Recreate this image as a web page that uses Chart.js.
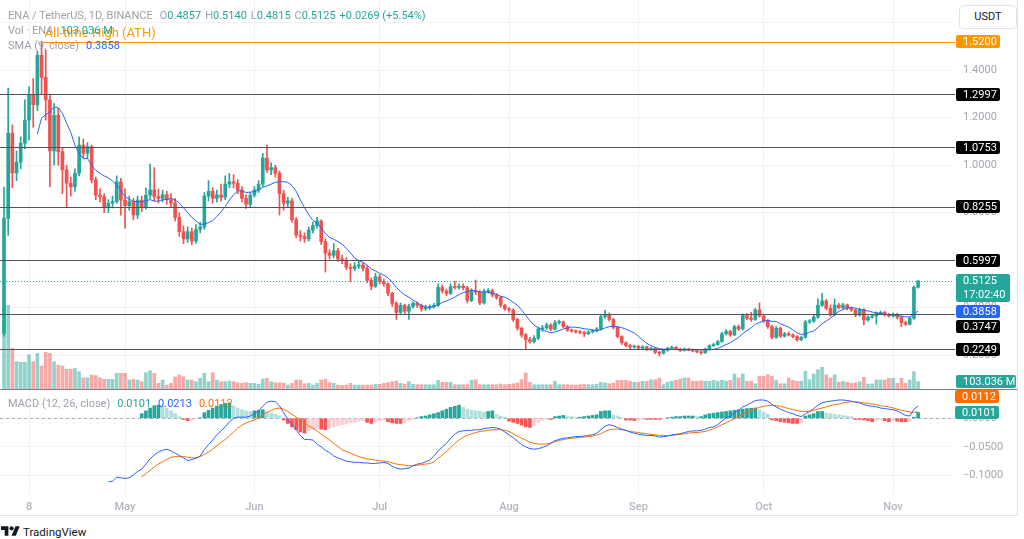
<!DOCTYPE html>
<html>
<head>
<meta charset="utf-8">
<title>ENA / TetherUS 1D</title>
<script src="https://cdn.jsdelivr.net/npm/chart.js@4.4.1/dist/chart.umd.min.js"></script>
<style>
  html,body{margin:0;padding:0;background:#ffffff;}
  body{width:1024px;height:539px;overflow:hidden;position:relative;font-family:Roboto,"Noto Sans",Arial,sans-serif;}
  #c1{position:absolute;left:0;top:0;}
  #c2{position:absolute;left:0;top:390px;}
  .legend{position:absolute;left:8px;font-size:11px;line-height:14px;white-space:nowrap;color:#9ea1a9;}
  .up{color:#26a69a;} .blue{color:#2962ff;} .orange{color:#ff6d00;}
  .sp{display:inline-block;width:7px;}
  .sp2{display:inline-block;width:4px;}
  #divider{position:absolute;left:0;top:389px;width:1017px;height:1px;background:#7d808a;}
  #rborder{position:absolute;left:1017px;top:0;width:1px;height:516px;background:#e0e3eb;}
  #bborder{position:absolute;left:0;top:515px;width:1018px;height:1px;background:#e0e3eb;}
  #usdt{position:absolute;left:959px;top:5px;width:56px;height:22px;border:1px solid #e0e3eb;border-radius:4px;background:#fff;font-size:11px;line-height:22px;text-align:center;color:#131722;}
  #tv{position:absolute;left:1px;top:524px;display:flex;align-items:center;font-size:11.5px;font-weight:400;color:#131722;}
  #tv svg{margin-right:3px;}
</style>
</head>
<body>
<canvas id="c1" width="1024" height="389"></canvas>
<canvas id="c2" width="1024" height="125"></canvas>
<div id="divider"></div>
<div id="rborder"></div>
<div id="bborder"></div>
<div id="usdt">USDT</div>
<div class="legend" id="lg1" style="top:9px;"></div>
<div class="legend" id="lg2" style="top:24px;"></div>
<div class="legend" id="lg3" style="top:39px;"></div>
<div class="legend" id="lg4" style="top:397px;"></div>
<div id="tv"><svg width="19" height="15" viewBox="0 0 36 28"><path d="M14 22H7V11H0V4h14v18zM28 22h-8l7.5-18h8L28 22z" fill="#131722"/><circle cx="20" cy="8" r="4" fill="#131722"/></svg>TradingView</div>
<script>
// ---------------- DATA (daily candles, day 0 = Apr 2) ----------------
const symbolTitle = 'ENA / TetherUS, 1D, BINANCE';
const changeText = '+0.0269 (+5.54%)';
const countdown = '17:02:40';
const volumeLabel = '103.036 M';
const tickLabels = ['8','May','Jun','Jul','Aug','Sep','Oct','Nov'];
const tickDays = [6,29,60,90,121,152,182,213];
const athPrice = 1.52;
const athDay = 9;
const athLabel = 'All-time High (ATH)';
const levels = [1.2997,1.0753,0.8255,0.5997,0.3747,0.2249];
const priceTicks = [0.2,0.4,0.6,0.8,1.0,1.2,1.4,1.6];
const macdTicks = [-0.1,-0.05,0];

const opens = [0.290,0.776,1.135,0.967,1.013,1.093,1.190,1.295,1.255,1.463,
 1.370,1.275,1.060,1.210,1.057,0.980,0.924,0.909,0.966,1.085,
 1.050,1.078,0.938,0.874,0.867,0.825,0.840,0.847,0.930,0.853,
 0.830,0.847,0.790,0.853,0.825,0.874,0.896,0.868,0.860,0.876,
 0.855,0.840,0.780,0.720,0.690,0.720,0.680,0.730,0.740,0.870,
 0.890,0.860,0.875,0.865,0.920,0.930,0.924,0.896,0.860,0.835,
 0.874,0.896,0.920,1.030,0.980,0.990,0.966,0.880,0.840,0.850,
 0.770,0.706,0.700,0.690,0.727,0.745,0.765,0.678,0.630,0.620,
 0.640,0.605,0.600,0.570,0.565,0.575,0.580,0.565,0.515,0.490,
 0.530,0.510,0.500,0.460,0.418,0.380,0.410,0.385,0.405,0.418,
 0.410,0.395,0.400,0.405,0.410,0.485,0.470,0.460,0.488,0.485,
 0.490,0.484,0.430,0.470,0.465,0.420,0.468,0.471,0.453,0.443,
 0.410,0.395,0.390,0.350,0.313,0.285,0.265,0.257,0.271,0.310,
 0.315,0.327,0.310,0.337,0.340,0.320,0.305,0.302,0.298,0.295,
 0.290,0.298,0.303,0.310,0.362,0.372,0.350,0.317,0.278,0.252,
 0.240,0.234,0.237,0.229,0.235,0.224,0.229,0.212,0.208,0.220,
 0.229,0.233,0.226,0.220,0.226,0.222,0.218,0.214,0.210,0.226,
 0.240,0.245,0.257,0.290,0.300,0.285,0.320,0.310,0.367,0.355,
 0.350,0.390,0.365,0.345,0.320,0.275,0.313,0.280,0.290,0.285,
 0.278,0.265,0.275,0.340,0.343,0.360,0.410,0.428,0.397,0.370,
 0.411,0.400,0.411,0.397,0.390,0.369,0.392,0.348,0.360,0.365,
 0.376,0.380,0.370,0.365,0.370,0.360,0.337,0.330,0.355,0.4857];

const highs = [0.908,1.325,1.170,1.060,1.120,1.275,1.330,1.365,1.480,1.520,
 1.485,1.300,1.260,1.240,1.075,1.000,0.950,0.985,1.120,1.110,
 1.095,1.085,0.950,0.900,0.880,0.855,0.870,0.955,0.945,0.900,
 0.870,0.860,0.870,0.870,0.905,1.005,0.990,0.900,0.895,0.890,
 0.880,0.860,0.800,0.745,0.740,0.735,0.750,0.760,0.885,0.935,
 0.905,0.895,0.920,0.955,0.965,0.960,0.940,0.910,0.875,0.885,
 0.910,0.935,1.050,1.085,1.010,1.000,0.975,0.895,0.865,0.860,
 0.780,0.725,0.715,0.740,0.760,0.780,0.770,0.690,0.645,0.670,
 0.650,0.620,0.610,0.585,0.590,0.595,0.590,0.575,0.525,0.545,
 0.540,0.520,0.505,0.465,0.425,0.420,0.415,0.415,0.425,0.425,
 0.415,0.410,0.412,0.418,0.500,0.495,0.478,0.500,0.512,0.500,
 0.500,0.490,0.480,0.516,0.472,0.478,0.480,0.478,0.460,0.448,
 0.415,0.400,0.395,0.355,0.318,0.292,0.275,0.282,0.318,0.325,
 0.335,0.332,0.345,0.348,0.344,0.325,0.310,0.307,0.303,0.300,
 0.303,0.308,0.316,0.368,0.390,0.378,0.355,0.320,0.282,0.256,
 0.245,0.242,0.241,0.240,0.238,0.234,0.232,0.216,0.224,0.233,
 0.238,0.236,0.229,0.230,0.229,0.226,0.222,0.218,0.230,0.244,
 0.250,0.262,0.296,0.308,0.305,0.326,0.327,0.374,0.375,0.380,
 0.398,0.420,0.372,0.350,0.325,0.320,0.318,0.296,0.298,0.290,
 0.282,0.280,0.346,0.350,0.368,0.437,0.460,0.435,0.412,0.437,
 0.418,0.418,0.415,0.402,0.395,0.398,0.396,0.366,0.371,0.382,
 0.386,0.385,0.376,0.378,0.376,0.364,0.343,0.360,0.492,0.514];

const lows = [0.280,0.705,0.905,0.935,0.985,1.070,1.105,1.160,1.230,1.300,
 1.190,0.909,1.000,1.000,0.880,0.825,0.870,0.890,0.955,1.030,
 1.030,0.925,0.855,0.845,0.800,0.800,0.820,0.840,0.790,0.735,
 0.810,0.770,0.775,0.805,0.815,0.860,0.850,0.840,0.845,0.835,
 0.825,0.765,0.700,0.670,0.675,0.665,0.670,0.715,0.730,0.850,
 0.840,0.845,0.850,0.855,0.905,0.905,0.880,0.845,0.818,0.825,
 0.865,0.885,0.910,0.970,0.960,0.950,0.790,0.810,0.825,0.760,
 0.695,0.680,0.675,0.680,0.715,0.735,0.665,0.550,0.605,0.610,
 0.595,0.585,0.560,0.510,0.555,0.565,0.555,0.505,0.475,0.485,
 0.500,0.490,0.450,0.405,0.350,0.370,0.375,0.350,0.398,0.400,
 0.385,0.388,0.392,0.398,0.405,0.462,0.450,0.455,0.478,0.478,
 0.475,0.420,0.425,0.455,0.412,0.415,0.460,0.445,0.435,0.402,
 0.388,0.380,0.342,0.305,0.275,0.222,0.250,0.250,0.265,0.300,
 0.308,0.303,0.305,0.330,0.315,0.300,0.296,0.292,0.289,0.278,
 0.286,0.293,0.298,0.305,0.355,0.343,0.310,0.272,0.245,0.235,
 0.228,0.229,0.224,0.225,0.219,0.220,0.206,0.196,0.204,0.216,
 0.225,0.222,0.215,0.217,0.218,0.214,0.209,0.203,0.207,0.222,
 0.236,0.241,0.254,0.284,0.279,0.282,0.304,0.306,0.348,0.342,
 0.346,0.360,0.338,0.312,0.268,0.270,0.274,0.276,0.280,0.272,
 0.258,0.261,0.272,0.333,0.338,0.355,0.405,0.390,0.363,0.365,
 0.394,0.395,0.390,0.384,0.362,0.364,0.327,0.343,0.355,0.330,
 0.370,0.364,0.360,0.360,0.352,0.320,0.325,0.327,0.350,0.4815];

const closes = [0.776,1.135,0.967,1.013,1.093,1.190,1.295,1.255,1.463,1.370,
 1.275,1.060,1.210,1.057,0.980,0.924,0.909,0.966,1.085,1.050,
 1.078,0.938,0.874,0.867,0.825,0.840,0.847,0.930,0.853,0.830,
 0.847,0.790,0.853,0.825,0.874,0.896,0.868,0.860,0.876,0.855,
 0.840,0.780,0.720,0.690,0.720,0.680,0.730,0.740,0.870,0.890,
 0.860,0.875,0.865,0.920,0.930,0.924,0.896,0.860,0.835,0.874,
 0.896,0.920,1.030,0.980,0.990,0.966,0.880,0.840,0.850,0.770,
 0.706,0.700,0.690,0.727,0.745,0.765,0.678,0.630,0.620,0.640,
 0.605,0.600,0.570,0.565,0.575,0.580,0.565,0.515,0.490,0.530,
 0.510,0.500,0.460,0.418,0.380,0.410,0.385,0.405,0.418,0.410,
 0.395,0.400,0.405,0.410,0.485,0.470,0.460,0.488,0.485,0.490,
 0.484,0.430,0.470,0.465,0.420,0.468,0.471,0.453,0.443,0.410,
 0.395,0.390,0.350,0.313,0.285,0.265,0.257,0.271,0.310,0.315,
 0.327,0.310,0.337,0.340,0.320,0.305,0.302,0.298,0.295,0.290,
 0.298,0.303,0.310,0.362,0.372,0.350,0.317,0.278,0.252,0.240,
 0.234,0.237,0.229,0.235,0.224,0.229,0.212,0.208,0.220,0.229,
 0.233,0.226,0.220,0.226,0.222,0.218,0.214,0.210,0.226,0.240,
 0.245,0.257,0.290,0.300,0.285,0.320,0.310,0.367,0.355,0.350,
 0.390,0.365,0.345,0.320,0.275,0.313,0.280,0.290,0.285,0.278,
 0.265,0.275,0.340,0.343,0.360,0.410,0.428,0.397,0.370,0.411,
 0.400,0.411,0.397,0.390,0.369,0.392,0.348,0.360,0.365,0.376,
 0.380,0.370,0.365,0.370,0.360,0.337,0.330,0.355,0.4857,0.5125];

// volume, millions of ENA
const volumes = [1185,1180,575,385,376,376,480,385,503,324,
 517,503,385,338,324,278,278,292,244,159,
 159,197,188,159,137,137,137,221,221,221,
 127,137,127,103,230,258,221,80,127,56,
 80,170,197,173,127,127,103,151,221,103,
 230,127,103,103,113,103,89,80,89,80,
 80,66,141,151,103,89,89,80,56,80,
 127,123,75,80,56,80,127,137,89,80,
 56,52,56,80,56,56,56,56,56,66,
 66,80,89,103,113,80,71,103,66,61,
 61,61,61,61,123,94,94,94,61,61,
 61,61,123,131,61,61,61,61,61,70,
 61,66,75,85,131,226,94,61,61,61,
 61,61,109,61,61,61,56,56,61,66,
 61,61,66,94,85,75,85,123,123,123,
 109,94,94,109,109,131,131,155,61,94,
 109,123,141,155,155,109,109,117,109,109,
 123,109,123,109,123,212,155,212,109,109,
 75,179,179,202,179,123,75,75,155,123,
 109,109,250,131,212,272,306,202,155,202,
 94,109,94,80,89,103,165,71,71,127,
 127,127,151,151,80,151,80,127,244,103.036];

// SMA(9, close), first value on day 8
const smaFirstDay = 8;
const sma9 = [1.1319,1.1979,1.2134,1.2238,1.2457,1.2417,1.2183,1.1771,1.1387,1.0834,
 1.0518,1.0268,1.0288,0.9986,0.9782,0.9657,0.9547,0.9470,0.9338,0.9166,
 0.8947,0.8671,0.8570,0.8477,0.8461,0.8461,0.8499,0.8553,0.8484,0.8492,
 0.8543,0.8552,0.8608,0.8527,0.8410,0.8206,0.8010,0.7801,0.7657,0.7506,
 0.7522,0.7578,0.7667,0.7839,0.8033,0.8256,0.8533,0.8749,0.8922,0.8911,
 0.8850,0.8866,0.8889,0.8950,0.9072,0.9128,0.9201,0.9279,0.9301,0.9307,
 0.9280,0.9140,0.8902,0.8536,0.8213,0.7921,0.7676,0.7548,0.7368,0.7123,
 0.6957,0.6883,0.6778,0.6678,0.6503,0.6303,0.6092,0.5983,0.5911,0.5794,
 0.5628,0.5544,0.5444,0.5367,0.5250,0.5076,0.4853,0.4681,0.4537,0.4442,
 0.4318,0.4207,0.4090,0.4023,0.4009,0.4042,0.4126,0.4220,0.4281,0.4359,
 0.4442,0.4548,0.4641,0.4669,0.4736,0.4713,0.4658,0.4667,0.4648,0.4612,
 0.4560,0.4478,0.4439,0.4350,0.4222,0.4103,0.3900,0.3671,0.3453,0.3262,
 0.3151,0.3062,0.2992,0.2948,0.2974,0.3036,0.3097,0.3150,0.3184,0.3171,
 0.3149,0.3108,0.3094,0.3057,0.3023,0.3070,0.3144,0.3198,0.3219,0.3200,
 0.3158,0.3093,0.3017,0.2936,0.2788,0.2636,0.2496,0.2398,0.2324,0.2276,
 0.2253,0.2248,0.2243,0.2240,0.2223,0.2226,0.2218,0.2224,0.2231,0.2220,
 0.2217,0.2224,0.2246,0.2287,0.2358,0.2444,0.2519,0.2637,0.2748,0.2904,
 0.3032,0.3149,0.3297,0.3380,0.3430,0.3469,0.3419,0.3422,0.3326,0.3253,
 0.3181,0.3057,0.2946,0.2868,0.2890,0.2966,0.3018,0.3162,0.3316,0.3440,
 0.3542,0.3704,0.3843,0.3922,0.3982,0.4016,0.3970,0.3930,0.3876,0.3864,
 0.3813,0.3787,0.3752,0.3722,0.3694,0.3696,0.3660,0.3648,0.3614,0.3603,
 0.3725,0.3858];

// MACD (12, 26, close)
const macdFirstDay = 25;
const macdLine = [-0.111,-0.110,-0.103,-0.104,-0.105,
 -0.104,-0.099,-0.093,-0.089,-0.080,-0.071,-0.064,-0.059,-0.056,-0.054,
 -0.057,-0.061,-0.065,-0.069,-0.074,-0.072,-0.070,-0.066,-0.055,-0.046,
 -0.038,-0.029,-0.022,-0.015,-0.006,0.000,0.002,0.002,0.002,0.004,
 0.008,0.013,0.021,0.028,0.030,0.029,0.022,0.010,-0.002,-0.011,
 -0.020,-0.030,-0.037,-0.037,-0.038,-0.045,-0.050,-0.056,-0.060,-0.066,
 -0.069,-0.072,-0.075,-0.076,-0.077,-0.077,-0.078,-0.078,-0.079,-0.079,
 -0.078,-0.077,-0.079,-0.084,-0.087,-0.089,-0.088,-0.087,-0.083,-0.080,
 -0.079,-0.076,-0.073,-0.066,-0.057,-0.050,-0.044,-0.035,-0.028,-0.023,
 -0.022,-0.021,-0.021,-0.020,-0.020,-0.018,-0.017,-0.016,-0.017,-0.019,
 -0.024,-0.029,-0.034,-0.040,-0.046,-0.050,-0.053,-0.054,-0.053,-0.051,
 -0.048,-0.044,-0.039,-0.037,-0.035,-0.034,-0.033,-0.032,-0.032,-0.031,
 -0.030,-0.029,-0.026,-0.020,-0.014,-0.011,-0.013,-0.016,-0.019,-0.021,
 -0.024,-0.026,-0.028,-0.029,-0.030,-0.030,-0.031,-0.033,-0.032,-0.031,
 -0.029,-0.028,-0.027,-0.025,-0.023,-0.022,-0.022,-0.021,-0.019,-0.016,
 -0.015,-0.011,-0.005,0.001,0.004,0.010,0.014,0.020,0.023,0.027,
 0.031,0.032,0.032,0.030,0.024,0.020,0.016,0.013,0.010,0.008,
 0.005,0.003,0.008,0.012,0.017,0.023,0.027,0.029,0.030,0.031,
 0.032,0.032,0.031,0.030,0.028,0.027,0.024,0.022,0.021,0.020,
 0.018,0.017,0.016,0.015,0.013,0.009,0.005,0.004,0.016,0.0213];

const signalFirstDay = 33;
const signalLine = [-0.102,-0.097,-0.091,-0.085,-0.080,-0.076,-0.072,
 -0.068,-0.067,-0.067,-0.067,-0.068,-0.069,-0.069,-0.067,-0.063,-0.059,
 -0.054,-0.048,-0.042,-0.037,-0.031,-0.024,-0.017,-0.012,-0.008,-0.005,
 -0.003,0.001,0.006,0.010,0.014,0.017,0.018,0.016,0.012,0.007,
 0.002,-0.002,-0.008,-0.013,-0.017,-0.022,-0.028,-0.033,-0.038,-0.044,
 -0.049,-0.055,-0.058,-0.061,-0.064,-0.067,-0.069,-0.071,-0.072,-0.073,
 -0.074,-0.075,-0.076,-0.078,-0.080,-0.081,-0.082,-0.083,-0.083,-0.082,
 -0.081,-0.080,-0.079,-0.076,-0.070,-0.064,-0.058,-0.051,-0.044,-0.038,
 -0.033,-0.030,-0.027,-0.025,-0.023,-0.022,-0.021,-0.020,-0.020,-0.020,
 -0.021,-0.023,-0.027,-0.031,-0.035,-0.038,-0.042,-0.044,-0.045,-0.045,
 -0.045,-0.043,-0.041,-0.039,-0.037,-0.036,-0.035,-0.034,-0.033,-0.033,
 -0.032,-0.031,-0.029,-0.027,-0.023,-0.020,-0.019,-0.019,-0.020,-0.021,
 -0.023,-0.024,-0.025,-0.026,-0.027,-0.028,-0.029,-0.030,-0.030,-0.030,
 -0.030,-0.029,-0.028,-0.027,-0.026,-0.025,-0.025,-0.024,-0.023,-0.021,
 -0.018,-0.015,-0.011,-0.008,-0.004,-0.001,0.003,0.007,0.011,0.014,
 0.017,0.019,0.021,0.022,0.023,0.022,0.021,0.019,0.017,0.015,
 0.014,0.012,0.012,0.012,0.014,0.016,0.018,0.020,0.022,0.024,
 0.025,0.027,0.028,0.029,0.029,0.028,0.027,0.026,0.025,0.024,
 0.022,0.021,0.020,0.018,0.016,0.014,0.0125,0.011,0.0105,0.0112];

const macdHist = [0.008,0.013,0.018,0.022,0.023,0.021,0.017,
 0.013,0.008,0.003,-0.002,-0.004,-0.003,-0.001,0.001,0.010,0.014,
 0.018,0.021,0.024,0.026,0.027,0.022,0.018,0.015,0.013,0.012,
 0.013,0.014,0.015,0.012,0.009,0.007,0.004,-0.003,-0.009,-0.015,
 -0.020,-0.024,-0.026,-0.022,-0.020,-0.018,-0.019,-0.020,-0.017,-0.015,
 -0.013,-0.011,-0.010,-0.008,-0.007,-0.005,-0.004,-0.007,-0.009,-0.006,
 -0.004,-0.003,-0.006,-0.008,-0.009,-0.009,-0.008,-0.004,-0.002,0.001,
 0.003,0.004,0.006,0.008,0.010,0.013,0.016,0.019,0.021,0.023,
 0.019,0.016,0.014,0.013,0.012,0.011,0.012,0.013,0.007,0.004,
 0.002,-0.005,-0.007,-0.009,-0.012,-0.015,-0.016,-0.012,-0.008,-0.004,
 -0.002,-0.002,0.003,0.004,0.005,0.004,0.003,0.002,0.002,0.003,
 0.004,0.005,0.006,0.012,0.013,0.013,0.006,0.004,0.001,-0.003,
 -0.003,-0.004,-0.003,-0.002,-0.002,-0.002,-0.002,-0.002,-0.001,0.001,
 0.002,0.003,0.003,0.004,0.004,0.004,0.003,0.003,0.006,0.008,
 0.009,0.010,0.011,0.012,0.013,0.014,0.015,0.016,0.017,0.0175,
 0.018,0.015,0.011,0.007,-0.003,-0.004,-0.006,-0.007,-0.008,-0.009,
 -0.009,-0.008,0.004,0.006,0.008,0.012,0.012,0.009,0.008,0.007,
 0.006,0.005,0.004,0.003,-0.002,-0.002,-0.003,-0.004,-0.006,-0.004,
 -0.003,-0.004,-0.006,-0.004,-0.005,-0.006,-0.006,-0.005,0.002,0.0101];

// ---------------- VIEW / STYLE ----------------
const X_MIN = -0.958, X_MAX = 227.36;        // visible day range
const P_MIN = 0.05729, P_MAX = 1.69587;      // visible price range
const VOL_MAX = 5485;                        // volume overlay scale
const M_MIN = -0.13059, M_MAX = 0.04948;     // MACD pane range
const UP = '#26a69a', DN = '#ef5350';
const FONT = 'Roboto, "Noto Sans", sans-serif';
const TICK_COLOR = '#a3a6af';
const GRID = '#f1f2f6';

const last = closes.length - 1;
const candleColor = closes.map((c, i) => c >= opens[i] ? UP : DN);
const volColor = closes.map((c, i) => c >= opens[i] ? 'rgba(38,166,154,0.5)' : 'rgba(239,83,80,0.5)');
const histColor = macdHist.map((v, k) => {
  const prev = k > 0 ? macdHist[k - 1] : 0;
  if (v >= 0) return v >= prev ? '#26a69a' : '#b2dfdb';
  return v <= prev ? '#ff5252' : '#ffcdd2';
});

// legends
document.getElementById('lg1').innerHTML =
  symbolTitle + '<span class="sp"></span>O<span class="up">' + opens[last].toFixed(4) + '</span><span class="sp2"></span>H<span class="up">' +
  highs[last].toFixed(4) + '</span><span class="sp2"></span>L<span class="up">' + lows[last].toFixed(4) + '</span><span class="sp2"></span>C<span class="up">' +
  closes[last].toFixed(4) + '</span><span class="sp2"></span><span class="up">' + changeText + '</span>';
document.getElementById('lg2').innerHTML = 'Vol · ENA<span class="sp"></span><span class="up">' + volumeLabel + '</span>';
document.getElementById('lg3').innerHTML = 'SMA (9, close)<span class="sp"></span><span class="blue">' + sma9[sma9.length - 1].toFixed(4) + '</span>';
document.getElementById('lg4').innerHTML = 'MACD (12, 26, close)<span class="sp"></span><span class="up">' + macdHist[macdHist.length - 1].toFixed(4) +
  '</span><span class="sp"></span><span class="blue">0.0213</span><span class="sp"></span><span class="orange">' + signalLine[signalLine.length - 1].toFixed(4) + '</span>';

function tag(ctx, left, top, w, h, bg, lines) {
  ctx.fillStyle = bg;
  ctx.beginPath();
  if (ctx.roundRect) ctx.roundRect(left, top, w, h, 2); else ctx.rect(left, top, w, h);
  ctx.fill();
  ctx.fillStyle = '#ffffff';
  ctx.font = '11px ' + FONT;
  ctx.textAlign = 'left';
  ctx.textBaseline = 'middle';
  lines.forEach((t, k) => ctx.fillText(t, left + 7, top + 6.8 + k * 14));
}

const priceOverlay = {
  id: 'priceOverlay',
  afterDatasetsDraw(chart) {
    const { ctx, chartArea: a, scales: { x, y } } = chart;
    ctx.save();
    ctx.lineWidth = 1;
    ctx.strokeStyle = '#50535e';
    levels.forEach(v => {
      const py = Math.round(y.getPixelForValue(v)) + 0.5;
      ctx.beginPath(); ctx.moveTo(a.left, py); ctx.lineTo(a.right + 2, py); ctx.stroke();
    });
    const ay = Math.round(y.getPixelForValue(athPrice)) + 0.5;
    const ax = x.getPixelForValue(athDay);
    ctx.strokeStyle = '#ff9800';
    ctx.beginPath(); ctx.moveTo(ax, ay); ctx.lineTo(a.right + 2, ay); ctx.stroke();
    ctx.fillStyle = '#ff9800';
    ctx.font = '13px ' + FONT;
    ctx.textAlign = 'left'; ctx.textBaseline = 'middle';
    ctx.fillText(athLabel, ax + 3, ay - 9);
    const ly = Math.round(y.getPixelForValue(closes[last])) + 0.5;
    ctx.strokeStyle = '#26a69a';
    ctx.setLineDash([1, 2]);
    ctx.beginPath(); ctx.moveTo(a.left, ly); ctx.lineTo(a.right, ly); ctx.stroke();
    ctx.setLineDash([]);
    ctx.restore();
  },
  afterDraw(chart) {
    const { ctx, chartArea: a, scales: { y, yv } } = chart;
    const L = a.right + 3;
    ctx.save();
    const tags = [];
    tags.push({ v: athPrice, bg: '#ff9800', txt: [athPrice.toFixed(4)], w: 44, h: 13 });
    levels.forEach(v => tags.push({ v, bg: '#000000', txt: [v.toFixed(4)], w: 44, h: 13 }));
    tags.push({ v: closes[last], bg: '#26a69a', txt: [closes[last].toFixed(4), countdown], w: 54, h: 28, two: true });
    tags.push({ v: sma9[sma9.length - 1], bg: '#2962ff', txt: [sma9[sma9.length - 1].toFixed(4)], w: 44, h: 13 });
    tags.forEach(t => { t.y = y.getPixelForValue(t.v); t.top = t.two ? t.y - 7 : t.y - t.h / 2; });
    tags.sort((p, q) => p.y - q.y);
    for (let k = 1; k < tags.length; k++) {
      const p = tags[k - 1], t = tags[k];
      const minTop = p.top + p.h + 2;
      if (t.top < minTop) t.top = minTop;
    }
    tags.forEach(t => tag(ctx, L, Math.round(t.top), t.w, t.h, t.bg, t.txt));
    const vy = yv.getPixelForValue(volumes[last]);
    tag(ctx, L, Math.round(vy - 7), 60, 13, '#26a69a', [volumeLabel]);
    ctx.restore();
  }
};

const macdOverlay = {
  id: 'macdOverlay',
  beforeDatasetsDraw(chart) {
    const { ctx, chartArea: a, scales: { y } } = chart;
    const zy = Math.round(y.getPixelForValue(0)) + 0.5;
    ctx.save();
    ctx.strokeStyle = '#a9acb5';
    ctx.lineWidth = 1;
    ctx.setLineDash([3, 3]);
    ctx.beginPath(); ctx.moveTo(a.left, zy); ctx.lineTo(a.right, zy); ctx.stroke();
    ctx.restore();
  },
  afterDraw(chart) {
    const { ctx, chartArea: a, scales: { y } } = chart;
    const L = a.right + 2;
    ctx.save();
    const hv = macdHist[macdHist.length - 1], sv = signalLine[signalLine.length - 1];
    const hTop = Math.round(y.getPixelForValue(hv) - 6.5);
    let sTop = Math.round(y.getPixelForValue(sv) - 6.5);
    if (sTop > hTop - 16) sTop = hTop - 16;
    tag(ctx, L, hTop, 44, 13, '#26a69a', [hv.toFixed(4)]);
    tag(ctx, L, sTop, 44, 13, '#ff6d00', [sv.toFixed(4)]);
    ctx.restore();
  }
};

const xCommon = {
  type: 'linear', min: X_MIN, max: X_MAX, offset: false,
  grid: { color: GRID, drawTicks: false, offset: false },
  border: { display: false },
  afterBuildTicks: s => { s.ticks = tickDays.map(v => ({ value: v })); }
};

new Chart(document.getElementById('c1'), {
  type: 'bar',
  data: {
    datasets: [
      { label: 'Volume', yAxisID: 'yv', data: volumes.map((v, i) => ({ x: i, y: v })), backgroundColor: volColor,
        grouped: false, barThickness: 3, order: 4 },
      { label: 'Wick', data: highs.map((h, i) => ({ x: i, y: [lows[i], h] })), backgroundColor: candleColor,
        grouped: false, barThickness: 1, order: 3 },
      { label: 'Body', data: opens.map((o, i) => ({ x: i, y: [o, closes[i]] })), backgroundColor: candleColor,
        grouped: false, barThickness: 3, minBarLength: 1, order: 2 },
      { type: 'line', label: 'SMA 9', data: sma9.map((v, k) => ({ x: k + smaFirstDay, y: v })), borderColor: '#2962ff',
        borderWidth: 1, pointRadius: 0, tension: 0, order: 1 }
    ]
  },
  options: {
    responsive: false, animation: false, devicePixelRatio: 1,
    layout: { padding: 0 },
    plugins: { legend: { display: false }, tooltip: { enabled: false } },
    scales: {
      x: Object.assign({}, xCommon, {
        ticks: { display: false },
        afterFit: s => { s.height = 0; s.paddingLeft = 0; s.paddingRight = 0; }
      }),
      y: {
        position: 'right', min: P_MIN, max: P_MAX,
        grid: { color: GRID, drawTicks: false }, border: { display: false },
        ticks: { padding: 10, color: TICK_COLOR, font: { family: FONT, size: 11 }, callback: v => v.toFixed(4) },
        afterBuildTicks: s => { s.ticks = priceTicks.map(v => ({ value: v })); },
        afterFit: s => { s.width = 71; s.paddingTop = 0; s.paddingBottom = 0; }
      },
      yv: { display: false, min: 0, max: VOL_MAX }
    }
  },
  plugins: [priceOverlay]
});

new Chart(document.getElementById('c2'), {
  type: 'bar',
  data: {
    datasets: [
      { label: 'Histogram', data: macdHist.map((v, k) => ({ x: k + signalFirstDay, y: v })), backgroundColor: histColor,
        grouped: false, barThickness: 3, order: 3 },
      { type: 'line', label: 'MACD', data: macdLine.map((v, k) => ({ x: k + macdFirstDay, y: v })), borderColor: '#2962ff',
        borderWidth: 1, pointRadius: 0, tension: 0, order: 1 },
      { type: 'line', label: 'Signal', data: signalLine.map((v, k) => ({ x: k + signalFirstDay, y: v })), borderColor: '#ff6d00',
        borderWidth: 1, pointRadius: 0, tension: 0, order: 2 }
    ]
  },
  options: {
    responsive: false, animation: false, devicePixelRatio: 1,
    layout: { padding: 0 },
    plugins: { legend: { display: false }, tooltip: { enabled: false } },
    scales: {
      x: Object.assign({}, xCommon, {
        ticks: { padding: 8, color: '#b2b5be', autoSkip: false, maxRotation: 0,
                 font: { family: FONT, size: 11, weight: '500' },
                 callback: v => tickLabels[tickDays.indexOf(v)] },
        afterFit: s => { s.height = 22; s.paddingLeft = 0; s.paddingRight = 0; }
      }),
      y: {
        position: 'right', min: M_MIN, max: M_MAX,
        grid: { color: GRID, drawTicks: false }, border: { display: false },
        ticks: { padding: 10, color: TICK_COLOR, font: { family: FONT, size: 11 },
                 callback: v => (v < 0 ? '\u2212' : '') + Math.abs(v).toFixed(4) },
        afterBuildTicks: s => { s.ticks = macdTicks.map(v => ({ value: v })); },
        afterFit: s => { s.width = 71; s.paddingTop = 0; s.paddingBottom = 0; }
      }
    }
  },
  plugins: [macdOverlay]
});
</script>
</body>
</html>
